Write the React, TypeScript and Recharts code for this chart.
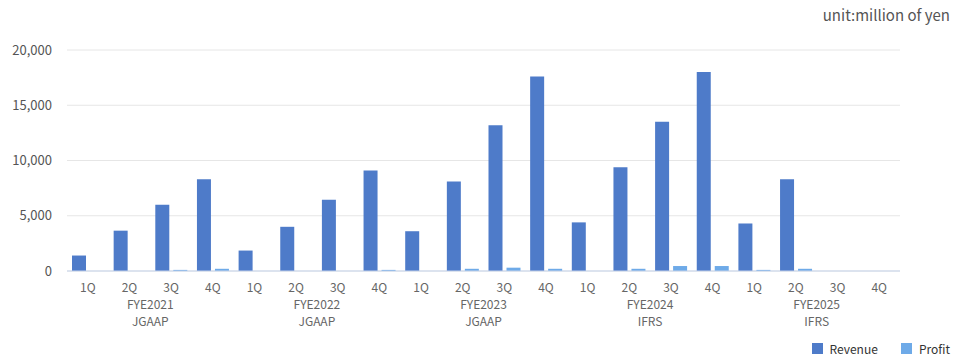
import React from 'react';
import { BarChart, Bar, XAxis, YAxis, CartesianGrid, Legend } from 'recharts';

const quarters = ['1Q', '2Q', '3Q', '4Q'];
const fiscalYears = ['FYE2021', 'FYE2022', 'FYE2023', 'FYE2024', 'FYE2025'];
const standards = ['JGAAP', 'JGAAP', 'JGAAP', 'IFRS', 'IFRS'];

const revenue = [
  1400, 3650, 6000, 8300,
  1850, 4000, 6450, 9100,
  3600, 8100, 13200, 17600,
  4400, 9400, 13500, 18000,
  4300, 8300, null, null,
];
const profit = [
  0, 0, 100, 200,
  0, 0, 0, 100,
  0, 200, 300, 200,
  0, 200, 450, 450,
  100, 200, null, null,
];
const yTicks = [0, 5000, 10000, 15000, 20000];

const data = revenue.map((r, i) => ({
  key: `${fiscalYears[Math.floor(i / 4)]}-${quarters[i % 4]}`,
  q: quarters[i % 4],
  fy: fiscalYears[Math.floor(i / 4)],
  std: standards[Math.floor(i / 4)],
  revenue: r,
  profit: profit[i],
}));

const FONT = '"Noto Sans CJK JP", "Noto Sans", sans-serif';
const REV = '#4e7bc9';
const PRO = '#6eaae8';

const CHART_W = 960;
const MARGIN = { top: 50, right: 60, left: 7, bottom: 2 };
const Y_W = 60;
const BAND = (CHART_W - MARGIN.left - MARGIN.right - Y_W) / data.length;

const QuarterTick = (props: any) => {
  const { x, y, payload, index } = props;
  const row = data[index] || data.find((d) => d.key === payload.value);
  const second = index % 4 === 1;
  return (
    <g>
      <text x={x} y={y + 21} textAnchor="middle" fill="#666" fontSize={12} fontFamily={FONT}>
        {row ? row.q : ''}
      </text>
      {second && row && (
        <>
          <text x={x + BAND / 2} y={y + 38} textAnchor="middle" fill="#666" fontSize={12} fontFamily={FONT}>
            {row.fy}
          </text>
          <text x={x + BAND / 2} y={y + 55} textAnchor="middle" fill="#666" fontSize={12} fontFamily={FONT}>
            {row.std}
          </text>
        </>
      )}
    </g>
  );
};

const LegendContent = () => (
  <div style={{ display: 'flex', justifyContent: 'flex-end', alignItems: 'center', fontFamily: FONT, fontSize: 12, color: '#333', height: 20 }}>
    <span style={{ display: 'inline-block', width: 11, height: 11, background: REV, marginRight: 7 }} />
    <span style={{ marginRight: 23 }}>Revenue</span>
    <span style={{ display: 'inline-block', width: 11, height: 11, background: PRO, marginRight: 7 }} />
    <span>Profit</span>
  </div>
);

export default function App() {
  return (
    <div style={{ position: 'absolute', left: 0, top: 0, width: 960, height: 360, background: '#fff' }}>
      <div
        style={{
          position: 'absolute',
          right: 10,
          top: 4,
          fontFamily: FONT,
          fontSize: 15,
          color: '#555',
        }}
      >
        unit:million of yen
      </div>
      <BarChart width={CHART_W} height={360} data={data} margin={MARGIN} barGap={4}>
        <CartesianGrid vertical={false} stroke="#e6e6e6" />
        <XAxis
          dataKey="key"
          interval={0}
          tickLine={false}
          tickSize={0}
          tickMargin={0}
          height={67}
          axisLine={{ stroke: '#c5d3ea' }}
          tick={<QuarterTick />}
        />
        <YAxis
          width={Y_W}
          domain={[0, 20000]}
          ticks={yTicks}
          axisLine={false}
          tickLine={false}
          tickSize={0}
          tickMargin={15}
          tick={{ fill: '#555', fontSize: 13, fontFamily: FONT }}
          tickFormatter={(v: number) => v.toLocaleString('en-US')}
        />
        <Legend
          verticalAlign="bottom"
          align="right"
          height={20}
          content={<LegendContent />}
          wrapperStyle={{ right: 10, bottom: 2 }}
        />
        <Bar dataKey="revenue" name="Revenue" fill={REV} barSize={14} isAnimationActive={false} />
        <Bar dataKey="profit" name="Profit" fill={PRO} barSize={14} isAnimationActive={false} />
      </BarChart>
    </div>
  );
}
